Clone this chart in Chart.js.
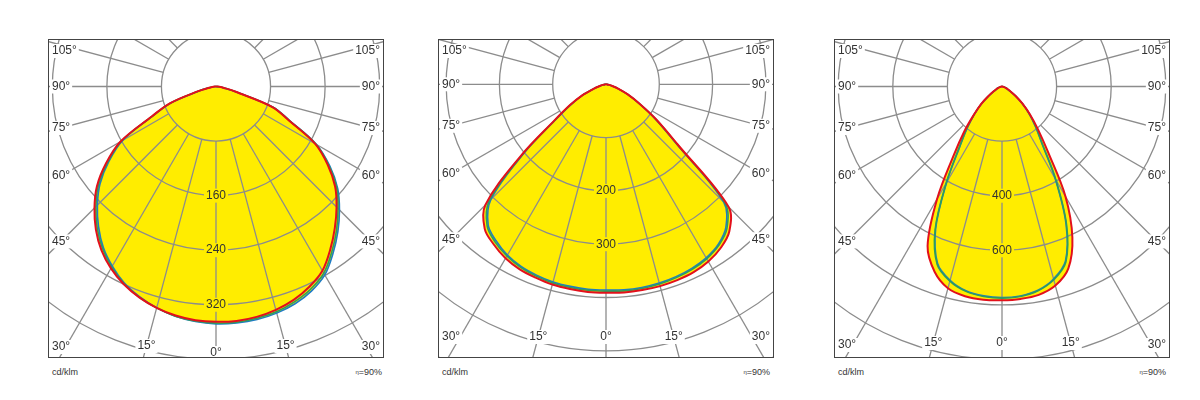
<!DOCTYPE html>
<html lang="en">
<head>
  <meta charset="UTF-8">
  <title>Polar light distribution</title>
  <script src="https://cdn.jsdelivr.net/npm/chart.js"></script>
  <style>
    body { margin: 0; background: #fff; font-family: "Liberation Sans", Arial, sans-serif; }
    #page { position: relative; width: 1200px; height: 400px; }
    .panel { position: absolute; top: 39px; width: 336px; height: 319px; }
    .cap { position: absolute; top: 367px; font-size: 9px; color: #333; line-height: 10px; }
    .eff { text-align: right; width: 60px; }
    .eta { font-size: 6px; vertical-align: top; }
  </style>
</head>
<body>
<div id="page">
  <div class="panel" style="left:48px"><canvas id="c1" width="336" height="319"></canvas></div>
  <div class="panel" style="left:438px"><canvas id="c2" width="336" height="319"></canvas></div>
  <div class="panel" style="left:834px"><canvas id="c3" width="336" height="319"></canvas></div>

  <div class="cap" style="left:52px">cd/klm</div>
  <div class="cap eff" style="left:322px"><span class="eta">η</span>=90%</div>
  <div class="cap" style="left:442px">cd/klm</div>
  <div class="cap eff" style="left:710px"><span class="eta">η</span>=90%</div>
  <div class="cap" style="left:838px">cd/klm</div>
  <div class="cap eff" style="left:1106px"><span class="eta">η</span>=90%</div>
</div>

<script>
  // gamma angles, left side negative
  var gamma = [-90,-85,-80,-75,-70,-65,-60,-55,-50,-45,-40,-35,-30,-25,-20,-15,-10,-5,0,
               5,10,15,20,25,30,35,40,45,50,55,60,65,70,75,80,85,90];

  // panel 1 (cd/klm)
  var p1Red   = [0,4,10,28,72,104,162,197,228,252,274,293,308,320,329,336,341,344,345,
                 345,343,339,333,324,312,292,271,250,228,200,168,118,88,30,12,5,0];
  var p1Green = [0,4,10,27,71,103,160,194,225,249,271,290,306,319,329,336,342,345,347,
                 347,345,342,336,328,316,296,275,253,231,202,169,119,88,30,12,5,0];
  var p1Blue  = [0,4,10,27,70,102,158,192,222,246,268,288,304,318,328,336,342,346,348,
                 348,347,344,339,331,319,299,278,256,233,204,170,120,89,31,12,5,0];

  // panel 2
  var p2Red   = [0,2,5,12,25,50,78,118,208,320,354,367,377,383,386,389,390,391,391,
                 392,392,392,391,389,384,375,360,325,175,115,72,45,25,12,5,2,0];
  var p2Green = [0,2,5,12,25,49,77,116,203,310,347,362,372,379,383,386,387,388,388,
                 389,389,388,386,383,378,369,353,316,172,114,72,45,25,12,5,2,0];
  var p2Blue  = [0,2,5,12,25,49,76,115,200,305,344,359,370,377,381,384,385,386,386,
                 387,387,386,384,381,376,367,350,312,170,113,71,45,25,12,5,2,0];

  // panel 3
  var p3Red   = [0,2,4,8,14,22,35,60,100,145,215,310,475,645,722,765,780,784,783,
                 781,775,755,710,610,465,295,205,145,98,62,36,22,14,8,4,2,0];
  var p3Green = [0,2,4,8,14,22,35,59,99,143,200,274,410,580,694,738,762,772,775,
                 772,760,733,684,560,395,259,192,141,97,61,35,22,14,8,4,2,0];
  var p3Blue  = [0,2,4,8,14,22,35,58,98,142,198,270,405,575,690,735,760,770,773,
                 770,758,730,680,555,390,255,190,140,96,60,35,22,14,8,4,2,0];

  // grid rings and their printed labels
  var p1Rings = [80,160,240,320,400,480,560];
  var p2Rings = [100,200,300,400,500,600,700];
  var p3Rings = [200,400,600,800,1000,1200,1400];
  var p1RingLabels = [160,240,320];
  var p2RingLabels = [200,300];
  var p3RingLabels = [400,600];

  var sideTicks = [45,60,75,90,105];
  var bottomTicks = [0,15,30];

  var YELLOW = '#ffed00';
  var FONT = '12px "Liberation Sans", Arial, sans-serif';

  function toPoints(vals) {
    return gamma.map(function(g, i) {
      var t = g * Math.PI / 180;
      return { x: vals[i] * Math.sin(t), y: -vals[i] * Math.cos(t) };
    });
  }

  function textBox(ctx, txt, x, y, align, bg) {
    var w = ctx.measureText(txt).width;
    var x0 = align === 'left' ? x : align === 'right' ? x - w : x - w / 2;
    ctx.fillStyle = bg;
    ctx.fillRect(x0 - 2, y - 7, w + 4, 14);
    ctx.fillStyle = '#333';
    ctx.textAlign = align;
    ctx.fillText(txt, x, y);
  }

  var polarGrid = {
    id: 'polarGrid',
    beforeDatasetsDraw: function(chart, args, opts) {
      var ctx = chart.ctx, a = chart.chartArea;
      var sx = chart.scales.x, sy = chart.scales.y;
      var cx = sx.getPixelForValue(0), cy = sy.getPixelForValue(0);
      function rad(v) { return sx.getPixelForValue(v) - cx; }

      ctx.save();
      ctx.beginPath();
      ctx.rect(a.left, a.top, a.right - a.left, a.bottom - a.top);
      ctx.clip();

      ctx.strokeStyle = '#8c8c8c';
      ctx.lineWidth = 1.3;
      opts.rings.forEach(function(v) {
        ctx.beginPath();
        ctx.arc(cx, cy, rad(v), 0, 2 * Math.PI);
        ctx.stroke();
      });
      var r0 = rad(opts.rings[0]), r1 = rad(opts.rings[opts.rings.length - 1]);
      for (var g = -165; g <= 180; g += 15) {
        var t = g * Math.PI / 180;
        ctx.beginPath();
        ctx.moveTo(cx + r0 * Math.sin(t), cy + r0 * Math.cos(t));
        ctx.lineTo(cx + r1 * Math.sin(t), cy + r1 * Math.cos(t));
        ctx.stroke();
      }

      ctx.font = FONT;
      ctx.textBaseline = 'middle';

      // intensity labels on the 0° axis
      opts.ringLabels.forEach(function(v) {
        textBox(ctx, String(v), cx, cy + rad(v), 'center', YELLOW);
      });

      // side angle labels
      sideTicks.forEach(function(d) {
        var txt = d + '°';
        var w = ctx.measureText(txt).width;
        var t = d * Math.PI / 180;
        [-1, 1].forEach(function(s) {
          var xl = s < 0 ? a.left + 4 : a.right - 4;
          var xm = xl - s * w / 2;
          var y = cy + Math.abs(xm - cx) * Math.cos(t) / Math.sin(t);
          y = Math.max(y, a.top + 12);
          textBox(ctx, txt, xl, y, s < 0 ? 'left' : 'right', '#fff');
        });
      });

      // bottom angle labels
      bottomTicks.forEach(function(d, i) {
        var txt = d + '°';
        var y = opts.bottomY[i];
        if (d === 0) { textBox(ctx, txt, cx, y, 'center', '#fff'); return; }
        if (d === 30) {
          textBox(ctx, txt, a.left + 4, y, 'left', '#fff');
          textBox(ctx, txt, a.right - 4, y, 'right', '#fff');
          return;
        }
        var dx = (y - cy) * Math.tan(d * Math.PI / 180);
        textBox(ctx, txt, cx - dx, y, 'center', '#fff');
        textBox(ctx, txt, cx + dx, y, 'center', '#fff');
      });

      ctx.restore();

      ctx.strokeStyle = '#444';
      ctx.lineWidth = 1;
      ctx.strokeRect(a.left + 0.5, a.top + 0.5, a.right - a.left - 1, a.bottom - a.top - 1);
    }
  };

  function series(vals, color, width) {
    return {
      data: toPoints(vals),
      borderColor: color,
      borderWidth: width,
      backgroundColor: YELLOW,
      fill: 'shape',
      tension: 0.35,
      pointRadius: 0
    };
  }

  function drawPanel(id, red, green, blue, rings, ringLabels, pxPerCd, cxPx, cyPx, bottomY) {
    var W = 336, H = 319;
    new Chart(document.getElementById(id), {
      type: 'line',
      data: {
        datasets: [
          series(red, '#e3101b', 2),
          series(green, '#2f9e5a', 1.6),
          series(blue, '#1f7cc4', 1.6)
        ]
      },
      options: {
        responsive: false,
        animation: false,
        layout: { padding: 0 },
        scales: {
          x: { type: 'linear', display: false, min: -cxPx / pxPerCd, max: (W - cxPx) / pxPerCd },
          y: { type: 'linear', display: false, min: -(H - cyPx) / pxPerCd, max: cyPx / pxPerCd }
        },
        plugins: {
          legend: { display: false },
          tooltip: { enabled: false },
          filler: { drawTime: 'beforeDatasetsDraw' },
          polarGrid: { rings: rings, ringLabels: ringLabels, bottomY: bottomY }
        }
      },
      plugins: [polarGrid]
    });
  }

  drawPanel('c1', p1Red, p1Green, p1Blue, p1Rings, p1RingLabels, 0.682, 168, 47.5, [314, 307, 308]);
  drawPanel('c2', p2Red, p2Green, p2Blue, p2Rings, p2RingLabels, 0.533, 168, 45.3, [298, 298, 298]);
  drawPanel('c3', p3Red, p3Green, p3Blue, p3Rings, p3RingLabels, 0.273, 168, 47.5, [304, 304, 306]);
</script>
</body>
</html>
